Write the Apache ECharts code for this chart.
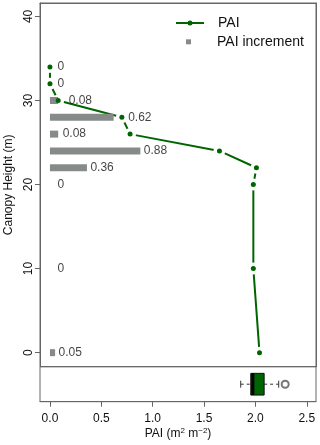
<!DOCTYPE html>
<html><head><meta charset="utf-8">
<script src="https://cdn.jsdelivr.net/npm/echarts@6/dist/echarts.min.js"></script>
<style>html,body{margin:0;padding:0;background:#fff}#c{width:320px;height:445px}</style>
</head><body><div id="c"></div>
<script>
// ---- data ----
const heights = [34, 32, 30, 28, 26, 24, 22, 20, 10, 0];
const paiIncrement = [0, 0, 0.08, 0.62, 0.08, 0.88, 0.36, 0, 0, 0.05];
const paiCumulative = [0, 0, 0.08, 0.70, 0.78, 1.65, 2.01, 1.98, 1.98, 2.04];
const boxStats = [1.857, 1.955, 1.975, 2.085, 2.227]; // whisker low, Q1, median, Q3, whisker high
const boxOutliers = [2.29];
const xTicks = [0, 0.5, 1, 1.5, 2, 2.5];
const yTicks = [0, 10, 20, 30, 40];

// ---- style ----
const FONT = 'Liberation Sans, Arial, Helvetica, sans-serif';
const GREEN = '#006400';
const BAR = '#868b89';
const FRAME = '#666';
const TXT = '#111';
const labelNudge = {34: 4, 32: 4, 30: 7, 28: 11, 26: 1, 20: 4, 10: 4};

const chart = echarts.init(document.getElementById('c'), null, {renderer: 'canvas'});
const X_MIN = -0.097, X_MAX = 2.59;
const Y_MIN = -1.67, Y_MAX = 41.6;
const frameLine = {show: true, onZero: false, lineStyle: {color: FRAME, width: 1}};

const option = {
  animation: false,
  textStyle: {fontFamily: FONT},
  grid: [
    {left: 40, top: 3, width: 276, height: 363.7, show: true, borderColor: FRAME, borderWidth: 1,
      containLabel: false, outerBoundsMode: 'none'},
    {left: 40, top: 366.7, width: 276, height: 35, show: true, borderColor: FRAME, borderWidth: 1,
      containLabel: false, outerBoundsMode: 'none'}
  ],
  xAxis: [
    {type: 'value', gridIndex: 0, min: X_MIN, max: X_MAX, position: 'top', splitLine: {show: false},
      axisLine: frameLine, axisTick: {show: false}, axisLabel: {show: false}},
    {type: 'value', gridIndex: 1, min: X_MIN, max: X_MAX, position: 'bottom',
      splitLine: {show: false}, axisLine: frameLine,
      axisTick: {show: true, length: 5, lineStyle: {color: FRAME}, customValues: xTicks},
      axisLabel: {show: true, customValues: xTicks, formatter: v => v.toFixed(1), fontSize: 12, color: TXT, margin: 11, fontFamily: FONT},
      name: 'PAI (m{sup|2} m{sup|\u22122})', nameLocation: 'middle', nameGap: 25,
      nameTextStyle: {fontSize: 12, color: TXT, fontFamily: FONT,
        rich: {sup: {fontSize: 8, verticalAlign: 'top', color: TXT, fontFamily: FONT, padding: [0, 0, 6, 0]}}}
    }
  ],
  yAxis: [
    {type: 'value', gridIndex: 0, min: Y_MIN, max: Y_MAX, position: 'left', splitLine: {show: false},
      axisLine: frameLine,
      axisTick: {show: true, length: 5, lineStyle: {color: FRAME}, customValues: yTicks},
      axisLabel: {show: true, customValues: yTicks, rotate: 90, fontSize: 12, color: TXT, margin: 5, fontFamily: FONT},
      name: 'Canopy Height (m)', nameLocation: 'middle', nameGap: 24,
      nameTextStyle: {fontSize: 12, color: TXT, fontFamily: FONT}
    },
    {type: 'value', gridIndex: 1, min: 0, max: 1, show: false, splitLine: {show: false}, axisLine: {onZero: false}},
    {type: 'value', gridIndex: 0, min: Y_MIN, max: Y_MAX, position: 'right', splitLine: {show: false},
      axisLine: frameLine, axisTick: {show: false}, axisLabel: {show: false}}
  ],
  legend: [
    {data: ['PAI'], left: 175, top: 15, padding: 0, itemWidth: 28, itemHeight: 6.25,
      textStyle: {fontSize: 14, color: TXT, fontFamily: FONT, lineHeight: 16, padding: [0, 0, 0, 9]}},
    {data: [{name: 'PAI increment', icon: 'rect'}], left: 186, top: 33.8, padding: 0, itemWidth: 5, itemHeight: 5,
      textStyle: {fontSize: 14, color: TXT, fontFamily: FONT, lineHeight: 16, padding: [0, 0, 0, 21]}}
  ],
  series: [
    // legend-only entry for the PAI line
    {type: 'line', name: 'PAI', xAxisIndex: 0, yAxisIndex: 0, data: [], symbol: 'circle', symbolSize: 5,
      itemStyle: {color: GREEN}, lineStyle: {color: GREEN, width: 2}},
    // PAI line with gaps around points (R type="b")
    {type: 'line', name: 'PAI path', xAxisIndex: 0, yAxisIndex: 0, z: 2, silent: true,
      data: heights.map((h, i) => [paiCumulative[i], h]),
      symbol: 'circle', symbolSize: 12, itemStyle: {color: '#fff', borderWidth: 0},
      lineStyle: {color: GREEN, width: 2}},
    // increment bars
    {type: 'custom', name: 'PAI increment', xAxisIndex: 0, yAxisIndex: 0, z: 3, silent: true,
      itemStyle: {color: BAR},
      data: heights.map((h, i) => [paiIncrement[i], h]),
      encode: {x: 0, y: 1},
      renderItem(params, api) {
        const v = api.value(0), h = api.value(1);
        const p0 = api.coord([0, h]), p1 = api.coord([v, h]);
        const bh = 7;
        return {type: 'rect', shape: {x: p0[0], y: p0[1] - bh / 2, width: p1[0] - p0[0], height: bh},
          style: {fill: api.visual('color')}};
      }},
    // PAI points
    {type: 'scatter', name: 'PAI points', xAxisIndex: 0, yAxisIndex: 0, z: 4, silent: true,
      data: heights.map((h, i) => [paiCumulative[i], h]),
      symbol: 'circle', symbolSize: 5, itemStyle: {color: GREEN, opacity: 1}},
    // increment labels
    {type: 'scatter', name: 'labels', xAxisIndex: 0, yAxisIndex: 0, z: 5, silent: true,
      symbolSize: 1, itemStyle: {color: 'rgba(0,0,0,0)'},
      data: heights.map((h, i) => ({value: [paiIncrement[i], h], label: {offset: [labelNudge[h] || 0, 0]}})),
      label: {show: true, position: 'right', distance: 3, formatter: p => String(p.value[0]),
        fontSize: 12, color: TXT, fontFamily: FONT}},
    // boxplot
    {type: 'custom', name: 'box', xAxisIndex: 1, yAxisIndex: 1, z: 3, silent: true,
      data: [boxStats], dimensions: ['lo', 'q1', 'med', 'q3', 'hi'], encode: {x: [0, 1, 2, 3, 4]},
      renderItem(params, api) {
        const lo = api.value(0), q1 = api.value(1), med = api.value(2), q3 = api.value(3), hi = api.value(4);
        const c = (x, y) => api.coord([x, y]);
        const line = (a, b, style) => ({type: 'line', shape: {x1: a[0], y1: a[1], x2: b[0], y2: b[1]}, style});
        const dash = {stroke: '#333', lineWidth: 1, lineDash: [3, 3]};
        const solid = {stroke: '#333', lineWidth: 1};
        const bt = c(q1, 0.81), bb = c(q3, 0.19);
        return {type: 'group', children: [
          line(c(lo, 0.5), c(q1, 0.5), dash),
          line(c(q3, 0.5), c(hi, 0.5), dash),
          line(c(lo, 0.4), c(lo, 0.6), solid),
          line(c(hi, 0.4), c(hi, 0.6), solid),
          {type: 'rect', shape: {x: bt[0], y: bt[1], width: bb[0] - bt[0], height: bb[1] - bt[1]},
            style: {fill: GREEN, stroke: '#111', lineWidth: 1}},
          line(c(med, 0.19), c(med, 0.81), {stroke: '#000', lineWidth: 3})
        ]};
      }},
    {type: 'scatter', name: 'outliers', xAxisIndex: 1, yAxisIndex: 1, z: 4, silent: true,
      data: boxOutliers.map(v => [v, 0.5]), symbol: 'emptyCircle', symbolSize: 7,
      itemStyle: {color: '#555', borderWidth: 1}}
  ]
};
chart.setOption(option);
</script>
</body></html>
